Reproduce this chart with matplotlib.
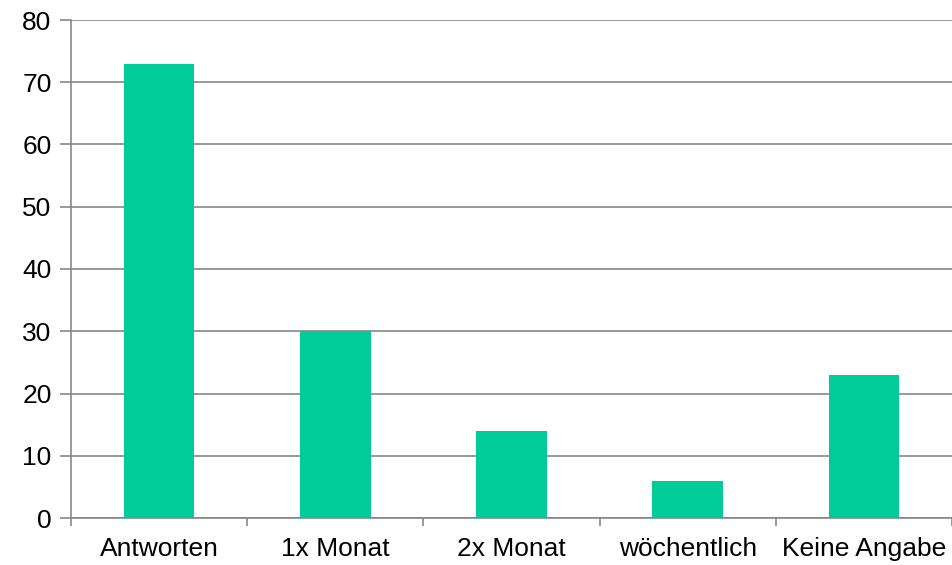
import matplotlib
matplotlib.use("Agg")
import matplotlib.pyplot as plt
import numpy as np

categories = ["Antworten", "1x Monat", "2x Monat", "wöchentlich", "Keine Angabe"]
values = [73, 30, 14, 6, 23]
yticks = [0, 10, 20, 30, 40, 50, 60, 70, 80]

plt.rcParams['font.family'] = ['Liberation Sans', 'DejaVu Sans']

fig = plt.figure(figsize=(9.53, 5.65), dpi=100)
ax = fig.add_axes([71/953, 47/565, 881/953, 498/565])

x = np.arange(len(categories))
ax.bar(x, values, width=0.4, color="#00CC99", zorder=3)

ax.set_xlim(-0.5, len(categories) - 0.5)
ax.set_ylim(0, 80)
ax.set_yticks(yticks)
ax.set_yticklabels([str(v) for v in yticks], fontsize=19)
ax.yaxis.grid(True, color="#878787", linewidth=1.2, zorder=0)
ax.tick_params(axis='y', length=8, color="#878787", width=1.2, pad=6)

ax.set_xticks(np.arange(-0.5, len(categories), 1.0))
ax.set_xticklabels([])
ax.set_xticks(x, minor=True)
ax.set_xticklabels(categories, minor=True, fontsize=19)
ax.tick_params(axis='x', which='major', length=6, color="#878787", width=1.2)
ax.tick_params(axis='x', which='minor', length=0, pad=14)

for s in ['top', 'right']:
    ax.spines[s].set_visible(False)
for s in ['left', 'bottom']:
    ax.spines[s].set_color("#878787")
    ax.spines[s].set_linewidth(1.2)

fig.savefig("out.png", dpi=100)
